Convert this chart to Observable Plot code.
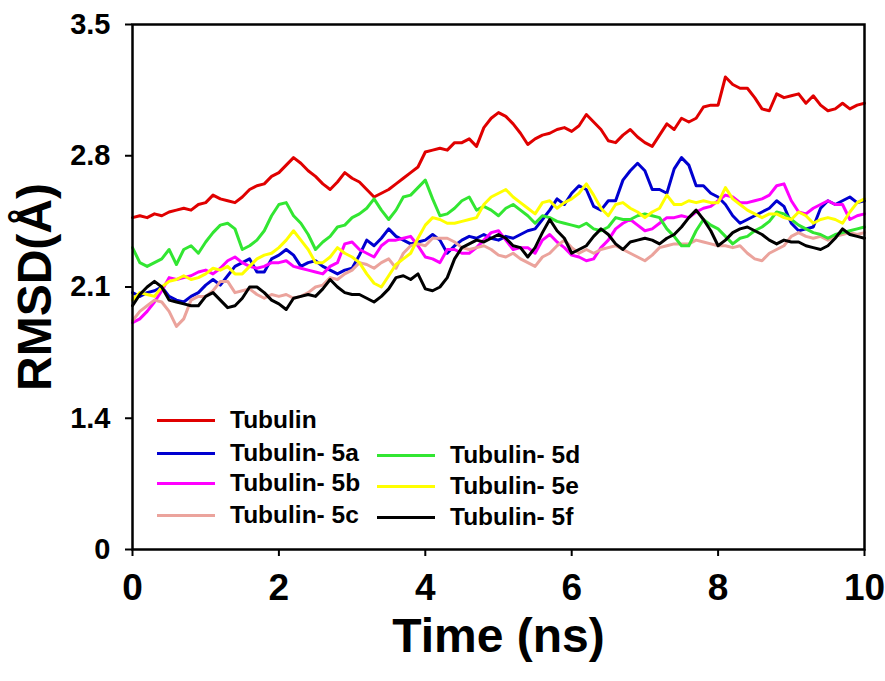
<!DOCTYPE html>
<html>
<head>
<meta charset="utf-8">
<script src="https://cdn.jsdelivr.net/npm/d3@7"></script>
<script src="https://cdn.jsdelivr.net/npm/@observablehq/plot@0.6"></script>
<style>
  html, body { margin: 0; padding: 0; background: #fff; }
  #wrap { position: relative; width: 885px; height: 681px; font-family: "Liberation Sans", Arial, sans-serif; font-weight: bold; }
  .leg { position: absolute; display: flex; align-items: center; height: 28px; font-size: 24.5px; color: #000; white-space: pre; }
  .sw { width: 58px; height: 0; border-top: 3px solid; margin-right: 15px; }
  #ytitle { position: absolute; left: 35px; top: 287px; transform: translate(-50%, -50%) rotate(-90deg); font-size: 48px; white-space: nowrap; color: #000; line-height: 1; }
</style>
</head>
<body>
<div id="wrap"></div>
<script>
// ---- data (RMSD in Å, sampled every 0.1 ns from 0 to 10 ns) ----
const seriesNames = ["Tubulin", "Tubulin- 5a", "Tubulin- 5b", "Tubulin- 5c", "Tubulin- 5d", "Tubulin- 5e", "Tubulin- 5f"];
const seriesColors = ["#e00000", "#0000d0", "#ff00ff", "#eba39c", "#32e632", "#ffff00", "#000000"];
const xTicks = [0, 2, 4, 6, 8, 10];
const yTicks = [0, 1.4, 2.1, 2.8, 3.5];
const xTitle = "Time (ns)";
const yTitle = "RMSD(Å)";

const tubulin = [2.47,
  2.48,2.47,2.49,2.48,2.50,2.51,2.52,2.51,2.54,2.55,
  2.59,2.57,2.56,2.55,2.58,2.62,2.64,2.65,2.69,2.71,
  2.75,2.79,2.76,2.72,2.69,2.65,2.62,2.66,2.71,2.68,
  2.66,2.62,2.58,2.60,2.62,2.65,2.68,2.71,2.74,2.82,
  2.83,2.84,2.83,2.87,2.87,2.89,2.85,2.95,3.00,3.03,
  3.01,2.97,2.92,2.86,2.89,2.91,2.92,2.94,2.95,2.93,
  2.96,3.02,2.98,2.94,2.88,2.87,2.91,2.94,2.90,2.87,
  2.85,2.91,2.97,2.94,3.00,2.98,3.00,3.06,3.07,3.07,
  3.22,3.18,3.16,3.16,3.11,3.05,3.04,3.13,3.11,3.12,
  3.13,3.08,3.12,3.07,3.04,3.05,3.08,3.05,3.07,3.08];
const tub5a = [2.07,
  2.05,2.07,2.08,2.10,2.05,2.03,2.02,2.05,2.07,2.11,
  2.14,2.11,2.16,2.21,2.23,2.25,2.18,2.18,2.25,2.27,
  2.30,2.27,2.21,2.23,2.24,2.21,2.19,2.17,2.19,2.20,
  2.27,2.35,2.32,2.36,2.41,2.37,2.35,2.33,2.34,2.35,
  2.38,2.35,2.28,2.32,2.35,2.37,2.36,2.38,2.36,2.35,
  2.37,2.36,2.38,2.40,2.41,2.46,2.51,2.57,2.54,2.60,
  2.64,2.62,2.53,2.51,2.56,2.56,2.67,2.72,2.76,2.72,
  2.62,2.62,2.60,2.73,2.79,2.75,2.64,2.64,2.60,2.58,
  2.54,2.48,2.44,2.46,2.48,2.50,2.52,2.56,2.53,2.44,
  2.40,2.41,2.42,2.52,2.56,2.54,2.56,2.58,2.55,2.56];
const tub5b = [1.91,
  1.93,1.97,2.02,2.08,2.15,2.14,2.15,2.16,2.18,2.19,
  2.17,2.20,2.24,2.26,2.23,2.21,2.20,2.21,2.23,2.23,
  2.24,2.21,2.20,2.19,2.18,2.17,2.21,2.23,2.33,2.34,
  2.30,2.28,2.26,2.32,2.35,2.35,2.36,2.37,2.32,2.26,
  2.25,2.23,2.30,2.30,2.28,2.28,2.31,2.35,2.39,2.40,
  2.35,2.30,2.31,2.31,2.28,2.35,2.38,2.34,2.31,2.27,
  2.26,2.24,2.25,2.31,2.35,2.41,2.44,2.46,2.43,2.40,
  2.41,2.44,2.47,2.47,2.48,2.47,2.50,2.52,2.53,2.56,
  2.59,2.58,2.55,2.55,2.56,2.57,2.59,2.64,2.65,2.56,
  2.50,2.49,2.52,2.54,2.56,2.54,2.54,2.46,2.48,2.49];
const tub5c = [1.92,
  1.97,2.00,2.03,2.02,1.97,1.89,1.93,2.03,2.05,2.05,
  2.08,2.13,2.13,2.07,2.08,2.09,2.06,2.04,2.06,2.05,
  2.06,2.04,2.05,2.07,2.10,2.11,2.15,2.14,2.17,2.19,
  2.23,2.22,2.20,2.23,2.25,2.20,2.28,2.32,2.33,2.32,
  2.36,2.36,2.36,2.34,2.31,2.30,2.31,2.32,2.30,2.27,
  2.26,2.28,2.25,2.23,2.21,2.26,2.28,2.32,2.35,2.31,
  2.28,2.30,2.28,2.30,2.31,2.32,2.30,2.28,2.26,2.24,
  2.27,2.31,2.32,2.33,2.33,2.33,2.35,2.34,2.33,2.32,
  2.32,2.31,2.32,2.28,2.25,2.24,2.28,2.30,2.32,2.37,
  2.39,2.37,2.36,2.37,2.35,2.37,2.38,2.39,2.38,2.39];
const tub5d = [2.31,
  2.23,2.21,2.23,2.25,2.30,2.22,2.30,2.32,2.28,2.34,
  2.39,2.43,2.44,2.41,2.30,2.32,2.35,2.40,2.48,2.54,
  2.55,2.48,2.44,2.38,2.30,2.34,2.37,2.42,2.43,2.47,
  2.49,2.52,2.57,2.51,2.46,2.51,2.58,2.59,2.63,2.67,
  2.57,2.48,2.49,2.52,2.56,2.58,2.51,2.53,2.51,2.48,
  2.52,2.54,2.51,2.48,2.44,2.48,2.47,2.45,2.44,2.43,
  2.42,2.44,2.41,2.40,2.42,2.47,2.46,2.46,2.48,2.49,
  2.48,2.47,2.41,2.37,2.32,2.32,2.40,2.46,2.43,2.41,
  2.37,2.33,2.36,2.37,2.40,2.42,2.45,2.50,2.49,2.46,
  2.43,2.41,2.39,2.38,2.36,2.38,2.39,2.40,2.41,2.42];
const tub5e = [2.03,
  2.07,2.06,2.05,2.10,2.13,2.14,2.16,2.14,2.15,2.17,
  2.20,2.19,2.21,2.17,2.17,2.21,2.25,2.27,2.28,2.31,
  2.35,2.40,2.35,2.30,2.23,2.23,2.26,2.31,2.28,2.26,
  2.23,2.17,2.12,2.10,2.16,2.22,2.25,2.28,2.36,2.43,
  2.47,2.46,2.44,2.44,2.45,2.46,2.47,2.54,2.58,2.60,
  2.62,2.58,2.55,2.52,2.49,2.55,2.56,2.52,2.55,2.57,
  2.60,2.65,2.59,2.52,2.48,2.54,2.55,2.52,2.50,2.47,
  2.50,2.52,2.59,2.54,2.54,2.56,2.55,2.56,2.55,2.55,
  2.63,2.57,2.54,2.51,2.49,2.47,2.49,2.49,2.47,2.46,
  2.50,2.48,2.44,2.46,2.47,2.46,2.44,2.50,2.55,2.57];
const tub5f = [2.00,
  2.06,2.10,2.13,2.10,2.03,2.02,2.01,2.00,2.00,2.05,
  2.07,2.03,1.99,2.00,2.04,2.10,2.10,2.07,2.03,2.01,
  1.98,2.04,2.05,2.06,2.05,2.09,2.14,2.10,2.07,2.06,
  2.06,2.04,2.02,2.05,2.09,2.15,2.16,2.14,2.17,2.09,
  2.08,2.10,2.15,2.25,2.31,2.33,2.35,2.34,2.36,2.38,
  2.36,2.32,2.31,2.26,2.31,2.39,2.46,2.40,2.36,2.28,
  2.30,2.32,2.37,2.41,2.38,2.33,2.30,2.34,2.35,2.36,
  2.35,2.33,2.36,2.38,2.42,2.47,2.51,2.46,2.40,2.32,
  2.35,2.39,2.41,2.42,2.40,2.38,2.35,2.33,2.35,2.34,
  2.34,2.32,2.31,2.30,2.32,2.36,2.41,2.38,2.37,2.36];

const seriesValues = [tubulin, tub5a, tub5b, tub5c, tub5d, tub5e, tub5f];
const rows = seriesValues.flatMap((vals, s) =>
  vals.map((v, i) => ({ time: i / 10, rmsd: v, series: seriesNames[s] })));

const font = '"Liberation Sans", Arial, sans-serif';
const W = 885, H = 681, mL = 132, mR = 21, mT = 24, mB = 132;
const plotH = H - mT - mB;
// evenly spaced tick positions as in the original figure (0, 1.4, 2.1, 2.8, 3.5)
const yRange = [H - mB, H - mB - plotH / 4, mT];

const chart = Plot.plot({
  width: W, height: H,
  marginLeft: mL, marginRight: mR, marginTop: mT, marginBottom: mB,
  style: { fontFamily: font, fontWeight: "bold", color: "#000", background: "#fff", overflow: "visible" },
  x: { domain: [0, 10] },
  y: { type: "linear", domain: [0, 1.4, 3.5], range: yRange },
  color: { domain: seriesNames, range: seriesColors },
  marks: [
    Plot.line(rows, { x: "time", y: "rmsd", z: "series", stroke: "series", strokeWidth: 3, strokeLinejoin: "round" }),
    Plot.frame({ stroke: "#000", strokeWidth: 2.5 }),
    Plot.axisX({ ticks: xTicks, tickSize: 7, tickPadding: 17, fontSize: 37, label: null, strokeWidth: 2 }),
    Plot.axisY({ ticks: yTicks, tickSize: 7, tickPadding: 15, fontSize: 29, label: null, strokeWidth: 2,
                 tickFormat: d => d === 0 ? "0" : d.toFixed(1) }),
    Plot.text([xTitle], { frameAnchor: "bottom", dy: 102, fontSize: 48, fontWeight: "bold", fill: "#000" })
  ]
});

const wrap = document.getElementById("wrap");
wrap.appendChild(chart);

const yt = document.createElement("div");
yt.id = "ytitle";
yt.textContent = yTitle;
wrap.appendChild(yt);

// legend placed inside the plot frame, as in the original
const legendLayout = [
  { left: 157, top: 420 }, { left: 157, top: 453 }, { left: 157, top: 483 }, { left: 157, top: 515 },
  { left: 377, top: 455 }, { left: 377, top: 486 }, { left: 377, top: 517 }
];
seriesNames.forEach((name, i) => {
  const d = document.createElement("div");
  d.className = "leg";
  d.style.left = legendLayout[i].left + "px";
  d.style.top = (legendLayout[i].top - 14) + "px";
  const sw = document.createElement("span");
  sw.className = "sw";
  sw.style.borderTopColor = seriesColors[i];
  const t = document.createElement("span");
  t.textContent = name;
  d.appendChild(sw);
  d.appendChild(t);
  wrap.appendChild(d);
});
</script>
</body>
</html>
